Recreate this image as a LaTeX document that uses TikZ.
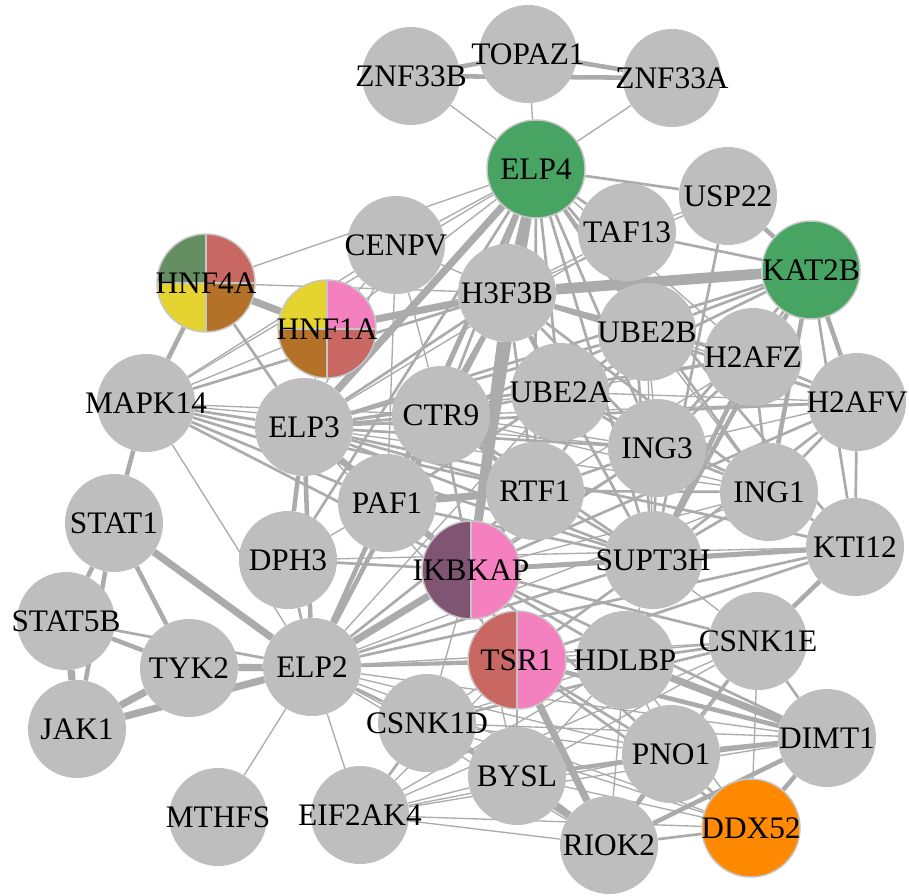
\documentclass[tikz,border=0pt]{standalone}
\usepackage{fontspec}
\setmainfont{Liberation Serif}
\definecolor{nodegray}{HTML}{BEBEBE}
\definecolor{edgegray}{HTML}{ABABAB}
\definecolor{rim}{HTML}{C6C6C6}
\definecolor{elpgreen}{HTML}{48A463}
\definecolor{hnfgreen}{HTML}{658E63}
\definecolor{brick}{HTML}{C96862}
\definecolor{mustard}{HTML}{E5D42F}
\definecolor{ochre}{HTML}{B37228}
\definecolor{rose}{HTML}{F580C0}
\definecolor{plum}{HTML}{805473}
\definecolor{amber}{HTML}{FF8900}
\pgfdeclarelayer{edges}
\pgfsetlayers{edges,main}
\tikzset{
  genetext/.style={font=\fontsize{23.5}{24}\selectfont, text=black, inner sep=0pt},
  gene/.style={circle, fill=nodegray, minimum size=73.5pt, inner sep=0pt,
    label={[genetext]center:#1}},
  ringed/.style={draw=rim, line width=1.1pt},
  quad/.style n args={4}{ringed, path picture={
    \fill[#1] (path picture bounding box.center) rectangle (path picture bounding box.north west);
    \fill[#2] (path picture bounding box.center) rectangle (path picture bounding box.north east);
    \fill[#3] (path picture bounding box.center) rectangle (path picture bounding box.south west);
    \fill[#4] (path picture bounding box.center) rectangle (path picture bounding box.south east);
    \draw[rim, line width=1.1pt] (path picture bounding box.north) -- (path picture bounding box.south)
      (path picture bounding box.west) -- (path picture bounding box.east);}},
  halves/.style 2 args={ringed, path picture={
    \fill[#1] (path picture bounding box.south) rectangle (path picture bounding box.north west);
    \fill[#2] (path picture bounding box.south) rectangle (path picture bounding box.north east);
    \draw[rim, line width=1.1pt] (path picture bounding box.north) -- (path picture bounding box.south);}},
  e1/.style={draw=edgegray, line width=1pt},
  e2/.style={draw=edgegray, line width=2pt},
  e3/.style={draw=edgegray, line width=3.4pt},
  e4/.style={draw=edgegray, line width=5.4pt},
  e5/.style={draw=edgegray, line width=8pt},
}
\begin{document}
\begin{tikzpicture}[x=0.75pt, y=-0.75pt]
\useasboundingbox (0,0) rectangle (909,895);

% genes
\node[gene=TOPAZ1]  (TOPAZ1)  at (528,54)  {};
\node[gene=ZNF33B]  (ZNF33B)  at (411,76)  {};
\node[gene=ZNF33A]  (ZNF33A)  at (672,78)  {};
\node[gene=ELP4, fill=elpgreen, ringed] (ELP4) at (536,169) {};
\node[gene=USP22]   (USP22)   at (728,196) {};
\node[gene=TAF13]   (TAF13)   at (627,232) {};
\node[gene=CENPV]   (CENPV)   at (396,245) {};
\node[gene=KAT2B, fill=elpgreen, ringed] (KAT2B) at (811,270) {};
\node[gene=HNF4A, quad={hnfgreen}{brick}{mustard}{ochre}] (HNF4A) at (206,283) {};
\node[gene=HNF1A, quad={mustard}{rose}{ochre}{brick}] (HNF1A) at (327,329) {};
\node[gene=H3F3B]   (H3F3B)   at (507,293) {};
\node[gene=UBE2B]   (UBE2B)   at (647,332) {};
\node[gene=H2AFZ]   (H2AFZ)   at (753,357) {};
\node[gene=H2AFV]   (H2AFV)   at (857,402) {};
\node[gene=MAPK14]  (MAPK14)  at (146,403) {};
\node[gene=ELP3]    (ELP3)    at (304,427) {};
\node[gene=CTR9]    (CTR9)    at (441,415) {};
\node[gene=UBE2A]   (UBE2A)   at (560,392) {};
\node[gene=ING3]    (ING3)    at (657,448) {};
\node[gene=ING1]    (ING1)    at (769,492) {};
\node[gene=RTF1]    (RTF1)    at (535,491) {};
\node[gene=PAF1]    (PAF1)    at (387,503) {};
\node[gene=STAT1]   (STAT1)   at (114,523) {};
\node[gene=DPH3]    (DPH3)    at (288,560) {};
\node[gene=IKBKAP, halves={plum}{rose}] (IKBKAP) at (471,570) {};
\node[gene=SUPT3H]  (SUPT3H)  at (653,560) {};
\node[gene=KTI12]   (KTI12)   at (855,547) {};
\node[gene=STAT5B]  (STAT5B)  at (66,621)  {};
\node[gene=TYK2]    (TYK2)    at (189,668) {};
\node[gene=ELP2]    (ELP2)    at (312,667) {};
\node[gene=TSR1, halves={brick}{rose}] (TSR1) at (517,660) {};
\node[gene=HDLBP]   (HDLBP)   at (625,660) {};
\node[gene=CSNK1E]  (CSNK1E)  at (758,641) {};
\node[gene=CSNK1D]  (CSNK1D)  at (427,723) {};
\node[gene=JAK1]    (JAK1)    at (77,729)  {};
\node[gene=PNO1]    (PNO1)    at (671,754) {};
\node[gene=DIMT1]   (DIMT1)   at (827,738) {};
\node[gene=BYSL]    (BYSL)    at (517,776) {};
\node[gene=MTHFS]   (MTHFS)   at (218,817) {};
\node[gene=EIF2AK4] (EIF2AK4) at (360,815) {};
\node[gene=RIOK2]   (RIOK2)   at (609,845) {};
\node[gene=DDX52, fill=amber, ringed] (DDX52) at (751,828) {};

% interactions, drawn beneath the genes
\begin{pgfonlayer}{edges}
\foreach \a/\b in {
  TOPAZ1/ELP4, ZNF33B/ELP4, ZNF33A/ELP4, ELP4/CENPV, ELP4/HNF1A, ELP4/HNF4A,
  ELP4/H2AFZ, TAF13/USP22, TAF13/H3F3B, USP22/H3F3B, H2AFZ/UBE2A, H2AFZ/RTF1,
  H2AFV/UBE2A, H2AFV/ING3, H2AFV/CTR9, H2AFV/UBE2B, UBE2B/ING3, UBE2B/SUPT3H,
  UBE2B/ING1, UBE2A/ELP3, UBE2A/SUPT3H, ING3/CTR9, ING3/MAPK14, ING1/ELP3,
  ING1/IKBKAP, ING1/CTR9, PAF1/DPH3, ELP3/CENPV, ELP3/HNF1A, ELP3/TSR1,
  ELP3/TAF13, MAPK14/CTR9, MAPK14/ELP2, MAPK14/CENPV, MAPK14/HNF1A, MAPK14/ELP4,
  H3F3B/HNF4A, H3F3B/CENPV, DPH3/ELP4, DPH3/KTI12, IKBKAP/BYSL, IKBKAP/RIOK2,
  IKBKAP/CSNK1D, SUPT3H/CSNK1E, SUPT3H/HDLBP, ELP2/CSNK1E, ELP2/BYSL, ELP2/PNO1,
  ELP2/DIMT1, ELP2/RIOK2, ELP2/DDX52, ELP2/EIF2AK4, ELP2/MTHFS, ELP2/ING1,
  ELP2/ING3, ELP2/UBE2A, TSR1/CSNK1E, TSR1/CSNK1D, TSR1/EIF2AK4, BYSL/DDX52,
  BYSL/CSNK1E, BYSL/HDLBP, RIOK2/CSNK1E, RIOK2/HDLBP, RIOK2/EIF2AK4, PNO1/HDLBP,
  PNO1/CSNK1D, PNO1/EIF2AK4, DIMT1/CSNK1D, DIMT1/EIF2AK4, CSNK1E/DDX52,
  HDLBP/CSNK1D, HDLBP/EIF2AK4, EIF2AK4/BYSL, EIF2AK4/DDX52, EIF2AK4/CSNK1E,
  DDX52/HDLBP, CSNK1D/DDX52, CENPV/CTR9, CENPV/PAF1, CENPV/HNF1A}
  \draw[e1] (\a) -- (\b);
\foreach \a/\b in {
  ELP4/USP22, ELP4/TAF13, ELP4/CTR9, ELP4/UBE2A, ELP4/UBE2B, ELP4/RTF1,
  ELP4/ING3, ELP4/SUPT3H, ELP4/ING1, ELP4/KTI12, ELP4/DPH3, TAF13/KAT2B,
  TAF13/SUPT3H, USP22/SUPT3H, KAT2B/H2AFZ, KAT2B/UBE2B, KAT2B/ING3, KAT2B/UBE2A,
  KAT2B/KTI12, H3F3B/H2AFZ, H3F3B/H2AFV, H3F3B/ELP3, H3F3B/CTR9, H3F3B/ING3,
  H3F3B/ING1, H3F3B/RTF1, H3F3B/SUPT3H, H3F3B/PAF1, H3F3B/MAPK14, H2AFZ/H2AFV,
  H2AFZ/UBE2B, H2AFZ/ING1, H2AFZ/ING3, H2AFV/ING1, H2AFV/KTI12, H2AFV/SUPT3H,
  UBE2B/UBE2A, UBE2B/RTF1, UBE2B/CTR9, UBE2A/CTR9, UBE2A/RTF1, UBE2A/ING3,
  UBE2A/PAF1, UBE2A/ING1, ING3/ING1, ING3/SUPT3H, ING3/RTF1, ING3/ELP3,
  ING3/IKBKAP, ING1/SUPT3H, ING1/KTI12, ING1/RTF1, CTR9/ELP3, RTF1/ELP3,
  CTR9/IKBKAP, PAF1/SUPT3H, RTF1/SUPT3H, CTR9/SUPT3H, PAF1/ELP2, ELP3/MAPK14,
  ELP3/SUPT3H, ELP3/KTI12, ELP3/H2AFV, ELP3/HNF4A, ELP3/UBE2B, ELP3/KAT2B,
  ELP3/H2AFZ, MAPK14/RTF1, MAPK14/IKBKAP, MAPK14/PAF1, MAPK14/SUPT3H,
  STAT5B/ELP2, DPH3/IKBKAP, DPH3/ELP2, IKBKAP/TSR1, IKBKAP/CSNK1E, IKBKAP/DIMT1,
  IKBKAP/HDLBP, IKBKAP/PNO1, IKBKAP/H2AFV, SUPT3H/TSR1, SUPT3H/ELP2, KTI12/ELP2,
  KTI12/TSR1, ELP2/TSR1, ELP2/RTF1, ELP2/HDLBP, ELP2/CSNK1D, ELP2/CTR9,
  TSR1/BYSL, TSR1/PNO1, TSR1/DDX52, TSR1/HDLBP, BYSL/PNO1, BYSL/DIMT1,
  BYSL/CSNK1D, RIOK2/DDX52, RIOK2/CSNK1D, PNO1/DDX52, PNO1/CSNK1E, DIMT1/CSNK1E,
  CSNK1E/CSNK1D, CSNK1E/HDLBP, EIF2AK4/CSNK1D}
  \draw[e2] (\a) -- (\b);
\foreach \a/\b in {
  TOPAZ1/ZNF33B, TOPAZ1/ZNF33A, ZNF33B/ZNF33A, ELP4/PAF1, ELP4/ELP2,
  USP22/KAT2B, KAT2B/H2AFV, KAT2B/ING1, KAT2B/SUPT3H, H3F3B/UBE2B, H3F3B/UBE2A,
  H3F3B/ELP2, H2AFZ/SUPT3H, CTR9/PAF1, CTR9/RTF1, PAF1/ELP3, PAF1/IKBKAP,
  RTF1/IKBKAP, ELP3/DPH3, ELP3/ELP2, ELP3/IKBKAP, MAPK14/STAT1, MAPK14/HNF4A,
  STAT1/STAT5B, STAT1/TYK2, STAT1/JAK1, STAT5B/TYK2, IKBKAP/SUPT3H,
  IKBKAP/KTI12, SUPT3H/KTI12, KTI12/CSNK1E, TSR1/DIMT1, RIOK2/PNO1,
  RIOK2/DIMT1, PNO1/DIMT1, DIMT1/DDX52}
  \draw[e3] (\a) -- (\b);
\foreach \a/\b in {
  ELP4/H3F3B, ELP4/ELP3, ELP4/IKBKAP, H3F3B/IKBKAP, H3F3B/HNF1A, HNF4A/HNF1A,
  PAF1/RTF1, STAT1/ELP2, STAT5B/JAK1, TYK2/JAK1, TYK2/ELP2, JAK1/ELP2,
  IKBKAP/ELP2, TSR1/RIOK2, BYSL/RIOK2, DIMT1/HDLBP}
  \draw[e4] (\a) -- (\b);
\draw[e5] (H3F3B) -- (KAT2B);
\end{pgfonlayer}
\end{tikzpicture}
\end{document}
